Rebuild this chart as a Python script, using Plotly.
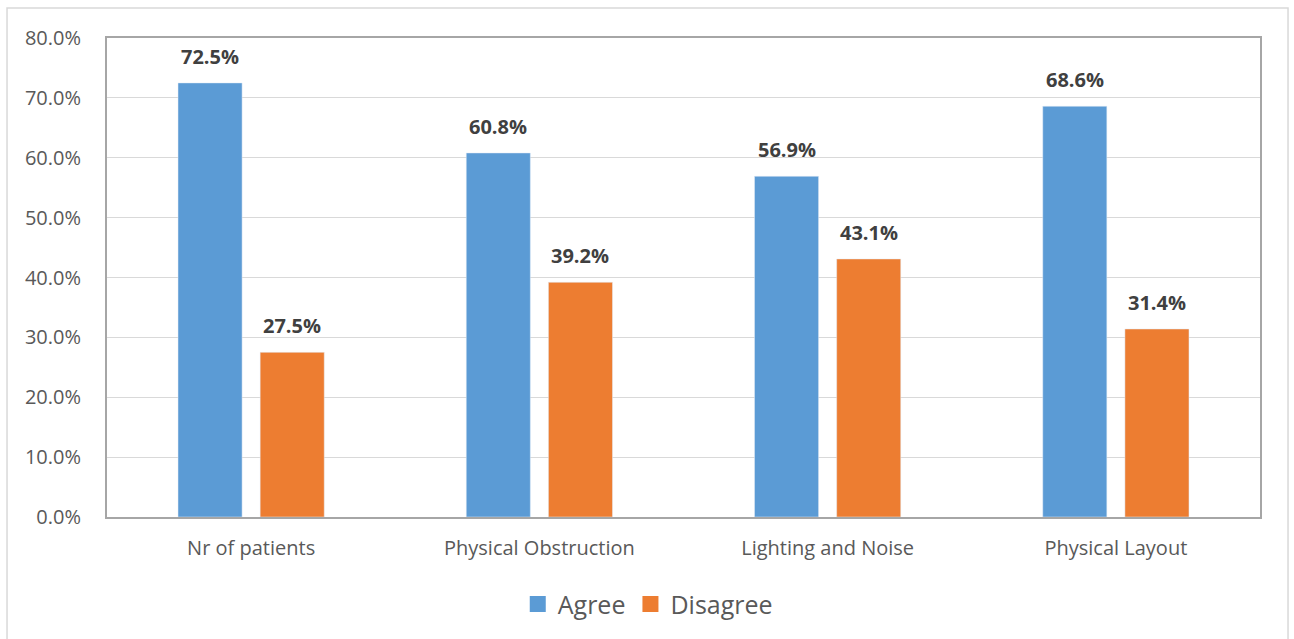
import plotly.graph_objects as go

categories = ["Nr of patients", "Physical Obstruction", "Lighting and Noise", "Physical Layout"]
agree = [72.5, 60.8, 56.9, 68.6]
disagree = [27.5, 39.2, 43.1, 31.4]
y_ticks = [0, 10, 20, 30, 40, 50, 60, 70, 80]
y_tick_labels = [f"{v:.1f}%" for v in y_ticks]

BLUE = "#5B9BD5"
ORANGE = "#ED7D31"
FONT = "Open Sans"

fig = go.Figure()
fig.add_trace(go.Bar(name="Agree", x=categories, y=agree, marker_color=BLUE,
                     showlegend=False))
fig.add_trace(go.Bar(name="Disagree", x=categories, y=disagree, marker_color=ORANGE,
                     showlegend=False))

# legend entries with square swatches
for name, color in (("Agree", BLUE), ("Disagree", ORANGE)):
    fig.add_trace(go.Scatter(
        x=[None], y=[None], mode="markers", name=name,
        marker=dict(symbol="square", size=16, color=color),
    ))

# value labels above each bar
for series, shift in ((agree, -41), (disagree, 41)):
    for cat, val in zip(categories, series):
        fig.add_annotation(
            x=cat, y=val, text=f"<b>{val:.1f}%</b>", showarrow=False,
            xref="x", yref="y", yanchor="bottom", xshift=shift, yshift=11,
            font=dict(family=FONT, size=20, color="#404040"),
        )

# outer chart border
fig.add_shape(
    type="rect", xref="paper", yref="paper",
    x0=-0.0867, x1=1.0243, y0=-0.30, y1=1.0626,
    line=dict(color="#D9D9D9", width=1.5), layer="below",
)

fig.update_layout(
    width=1294, height=639,
    margin=dict(l=107, r=34, t=38, b=122, autoexpand=False),
    paper_bgcolor="white", plot_bgcolor="white",
    barmode="group", bargap=0.43, bargroupgap=0.22,
    font=dict(family=FONT, color="#595959"),
    legend=dict(
        orientation="h", x=0.469, xanchor="center",
        y=-0.182, yanchor="middle",
        font=dict(family=FONT, size=25, color="#595959"),
        itemsizing="trace", itemwidth=30,
    ),
    xaxis=dict(
        showgrid=False, showline=True, linecolor="#A6A6A6", linewidth=2,
        mirror=True, ticks="", tickfont=dict(size=20, color="#595959"),
        ticklabelstandoff=12, tickangle=0,
    ),
    yaxis=dict(
        range=[0, 80], tickvals=y_ticks, ticktext=y_tick_labels,
        showgrid=True, gridcolor="#D9D9D9", gridwidth=1,
        showline=True, linecolor="#A6A6A6", linewidth=2, mirror=True,
        ticks="", tickfont=dict(size=20, color="#595959"),
        ticklabelstandoff=20, zeroline=False,
    ),
)

fig.write_html("out.html")
